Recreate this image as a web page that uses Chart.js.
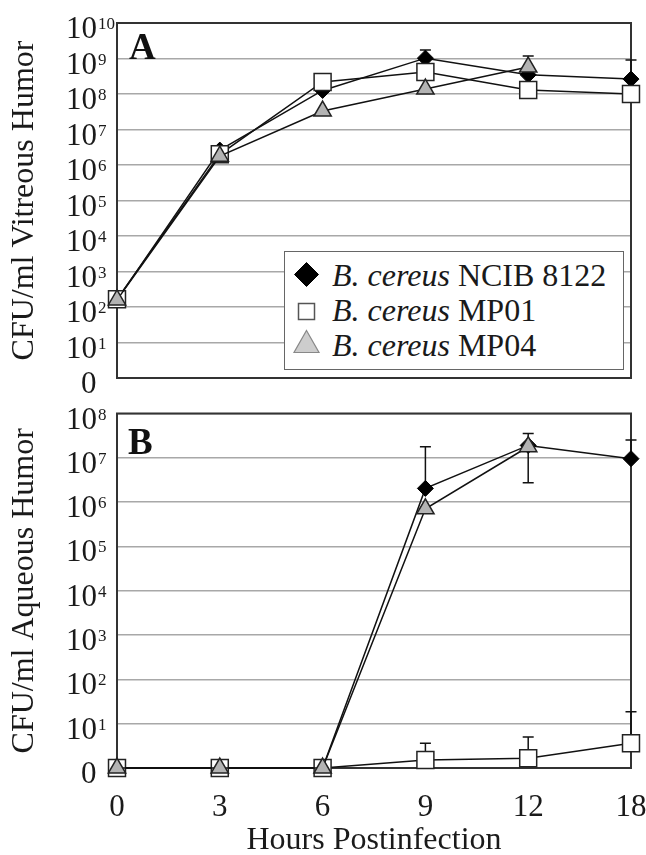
<!DOCTYPE html>
<html>
<head>
<meta charset="utf-8">
<script src="https://cdn.jsdelivr.net/npm/chart.js@4.4.1/dist/chart.umd.min.js"></script>
<style>
html,body{margin:0;padding:0;background:#fff;}
#wrap{position:relative;width:646px;height:855px;overflow:hidden;background:#fff;}
#cA{position:absolute;left:0;top:0;}
#cB{position:absolute;left:0;top:400px;}
.panel{position:absolute;font-family:'Liberation Serif','Times New Roman',serif;font-weight:bold;font-size:37px;line-height:37px;color:#111;}
#legend{position:absolute;left:284px;top:251px;width:340px;height:119px;box-sizing:border-box;border:1.5px solid #666;background:#fff;font-family:'Liberation Serif','Times New Roman',serif;font-size:32px;color:#1a1a1a;}
#legend .txt{position:absolute;left:47px;line-height:32px;white-space:nowrap;}
#legend svg{position:absolute;left:0;top:0;}
</style>
</head>
<body>
<div id="wrap">
  <canvas id="cA" width="646" height="400"></canvas>
  <canvas id="cB" width="646" height="455"></canvas>
  <div class="panel" style="left:129px;top:28px;">A</div>
  <div class="panel" style="left:128px;top:423px;">B</div>
  <div id="legend"></div>
</div>
<script>
// ---- data (values are log10 CFU/ml; 0 = none detected) ----
const hours = ['0', '3', '6', '9', '12', '18'];
const genus = 'B. cereus';
const strains = ['NCIB 8122', 'MP01', 'MP04'];

// Panel A: vitreous humor
const vitNCIB = [2.2, 6.42, 8.1, 9.01, 8.54, 8.42];
const vitMP01 = [2.22, 6.3, 8.34, 8.62, 8.11, 8.0];
const vitMP04 = [2.2, 6.25, 7.52, 8.14, 8.76, null];
const vitNCIBErrHi = [null, null, null, 9.24, null, 8.96];
const vitMP01ErrHi = [null, null, null, null, null, null];
const vitMP04ErrHi = [null, null, null, null, 9.07, null];

// Panel B: aqueous humor
const aqNCIB = [0, 0, 0, 6.31, 7.28, 6.98];
const aqMP01 = [0, 0, 0, 0.18, 0.22, 0.56];
const aqMP04 = [0, 0, 0, 5.85, 7.25, null];
const aqNCIBErrHi = [null, null, null, 7.25, null, 7.4];
const aqMP01ErrHi = [null, null, null, 0.56, 0.7, 1.27];
const aqMP04ErrHi = [null, null, null, null, 7.55, null];
const aqMP04ErrLo = [null, null, null, null, 6.44, null];

// tick labels
const yTickBaseA = ['0', '10', '10', '10', '10', '10', '10', '10', '10', '10', '10'];
const yTickExpA  = ['', '1', '2', '3', '4', '5', '6', '7', '8', '9', '10'];
const yTickBaseB = ['0', '10', '10', '10', '10', '10', '10', '10', '10'];
const yTickExpB  = ['', '1', '2', '3', '4', '5', '6', '7', '8'];

const FONT = "'Liberation Serif', 'Times New Roman', serif";
const TXT = '#1a1a1a';

const framePlugin = {
  id: 'frameErr',
  beforeDatasetsDraw(chart) {
    const {ctx, chartArea: a, scales} = chart;
    ctx.save();
    ctx.strokeStyle = '#333';
    ctx.lineWidth = 2;
    ctx.strokeRect(a.left, a.top, a.right - a.left, a.bottom - a.top);
    // error bars
    ctx.strokeStyle = '#111';
    ctx.lineWidth = 1.5;
    chart.data.datasets.forEach((ds, di) => {
      const meta = chart.getDatasetMeta(di);
      ['errHi', 'errLo'].forEach(k => {
        const arr = ds[k];
        if (!arr) return;
        arr.forEach((v, i) => {
          if (v == null || ds.data[i] == null) return;
          const x = meta.data[i].x;
          const y0 = scales.y.getPixelForValue(ds.data[i]);
          const y1 = scales.y.getPixelForValue(v);
          ctx.beginPath();
          ctx.moveTo(x, y0); ctx.lineTo(x, y1);
          ctx.moveTo(x - 5.5, y1); ctx.lineTo(x + 5.5, y1);
          ctx.stroke();
        });
      });
    });
    ctx.restore();
  },
  afterDraw(chart) {
    const {ctx, scales} = chart;
    const base = chart.options.plugins.frameErr.base;
    const exp = chart.options.plugins.frameErr.exp;
    ctx.save();
    ctx.fillStyle = TXT;
    ctx.textBaseline = 'alphabetic';
    scales.y.ticks.forEach((t, i) => {
      const y = scales.y.getPixelForValue(t.value);
      ctx.font = '31px ' + FONT;
      ctx.textAlign = 'right';
      ctx.fillText(base[i], exp[i] ? 97 : 96.5, y + 15);
      if (exp[i]) {
        ctx.font = '17px ' + FONT;
        ctx.textAlign = 'left';
        ctx.fillText(exp[i], 98, y + 6);
      }
    });
    ctx.restore();
  }
};

function mkDatasets(d1, d2, d3, e1, e2, e3, l3) {
  return [
    {label: genus + ' ' + strains[0], data: d1, errHi: e1, order: 2,
     borderColor: '#111', borderWidth: 1.5, pointStyle: 'rectRot', pointRadius: 8,
     pointBackgroundColor: '#000', pointBorderColor: '#000', pointBorderWidth: 1, clip: false},
    {label: genus + ' ' + strains[1], data: d2, errHi: e2, order: 1,
     borderColor: '#111', borderWidth: 1.5, pointStyle: 'rect', pointRadius: 12,
     pointBackgroundColor: '#fff', pointBorderColor: '#222', pointBorderWidth: 1.5, clip: false},
    {label: genus + ' ' + strains[2], data: d3, errHi: e3, errLo: l3, order: 0,
     borderColor: '#111', borderWidth: 1.5, pointStyle: 'triangle', pointRadius: 10,
     pointBackgroundColor: '#b3b3b3', pointBorderColor: '#222', pointBorderWidth: 1.5, clip: false}
  ];
}

function yScale(max, title) {
  return {
    type: 'linear', min: 0, max: max,
    afterFit(s) { s.width = 117; s.paddingTop = 0; s.paddingBottom = 0; },
    ticks: {display: false, stepSize: 1},
    grid: {color: '#a8a8a8', lineWidth: 1.5, drawTicks: false},
    border: {display: false},
    title: {display: true, text: title, color: TXT,
            font: {family: FONT, size: 32, lineHeight: 1}, padding: {top: 9, bottom: 0}}
  };
}

new Chart(document.getElementById('cA'), {
  type: 'line',
  data: {labels: hours, datasets: mkDatasets(vitNCIB, vitMP01, vitMP04, vitNCIBErrHi, vitMP01ErrHi, vitMP04ErrHi, null)},
  options: {
    responsive: false, animation: false, events: [],
    layout: {padding: {left: 0, right: 15, top: 23, bottom: 22}},
    plugins: {legend: {display: false}, tooltip: {enabled: false},
              frameErr: {base: yTickBaseA, exp: yTickExpA}},
    scales: {
      x: {type: 'category', display: false, offset: false},
      y: yScale(10, 'CFU/ml Vitreous Humor')
    }
  },
  plugins: [framePlugin]
});

new Chart(document.getElementById('cB'), {
  type: 'line',
  data: {labels: hours, datasets: mkDatasets(aqNCIB, aqMP01, aqMP04, aqNCIBErrHi, aqMP01ErrHi, aqMP04ErrHi, aqMP04ErrLo)},
  options: {
    responsive: false, animation: false, events: [],
    layout: {padding: {left: 0, right: 15, top: 13, bottom: 0}},
    plugins: {legend: {display: false}, tooltip: {enabled: false},
              frameErr: {base: yTickBaseB, exp: yTickExpB}},
    scales: {
      x: {type: 'category', offset: false,
          afterFit(s) { s.height = 87; s.paddingLeft = 0; s.paddingRight = 0; },
          grid: {display: false, drawTicks: false}, border: {display: false},
          ticks: {color: TXT, font: {family: FONT, size: 31}, padding: 21, maxRotation: 0, autoSkip: false},
          title: {display: true, text: 'Hours Postinfection', color: TXT,
                  font: {family: FONT, size: 32, lineHeight: 0.9}, padding: {top: 0, bottom: 0}}},
      y: yScale(8, 'CFU/ml Aqueous Humor')
    }
  },
  plugins: [framePlugin]
});

// ---- legend (HTML, real text) ----
(function () {
  const lg = document.getElementById('legend');
  const ns = 'http://www.w3.org/2000/svg';
  const svg = document.createElementNS(ns, 'svg');
  svg.setAttribute('width', '60'); svg.setAttribute('height', '116');
  const shapes = [
    ['polygon', {points: '21.5,10.5 33.5,22.5 21.5,34.5 9.5,22.5', fill: '#000', stroke: '#000', 'stroke-width': '1'}],
    ['rect', {x: '13.5', y: '51.5', width: '16', height: '16', fill: '#fff', stroke: '#555', 'stroke-width': '1.5'}],
    ['polygon', {points: '21.5,78.5 34,100.5 9,100.5', fill: '#cdcdcd', stroke: '#888', 'stroke-width': '1.2'}]
  ];
  shapes.forEach(([tag, attrs]) => {
    const el = document.createElementNS(ns, tag);
    Object.entries(attrs).forEach(([k, v]) => el.setAttribute(k, v));
    svg.appendChild(el);
  });
  lg.appendChild(svg);
  const tops = [6.7, 41.7, 76.7];
  strains.forEach((s, i) => {
    const d = document.createElement('div');
    d.className = 'txt';
    d.style.top = tops[i] + 'px';
    const it = document.createElement('i');
    it.textContent = genus;
    d.appendChild(it);
    d.appendChild(document.createTextNode(' ' + s));
    lg.appendChild(d);
  });
})();
</script>
</body>
</html>
